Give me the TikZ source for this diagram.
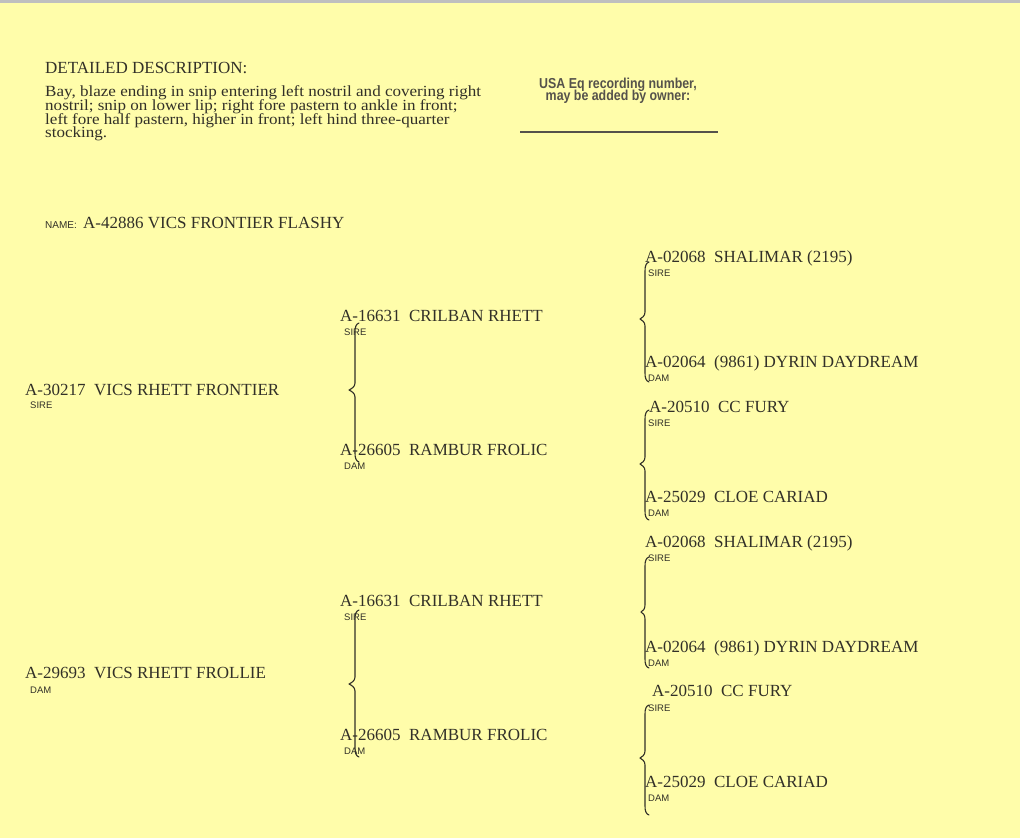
\documentclass[tikz,border=0pt]{standalone}
\usepackage{fontspec}
\setmainfont{Liberation Serif}
\setsansfont{Liberation Sans}
\newfontfamily\stampfont[FakeStretch=0.86]{Liberation Sans Bold}
\newfontfamily\descfont[FakeStretch=1.1]{Liberation Serif}
\definecolor{paper}{RGB}{255,253,170}
\definecolor{ink}{RGB}{50,48,40}
\definecolor{stampink}{RGB}{85,82,75}
\newcommand\gap{\hspace{0.5em}}
\newcommand\mybrace[5]{% x, tip x, top, mid, bottom
  \draw[bracestyle] (#1+4,#3) .. controls (#1+1,#3+1) and (#1,#3+4) .. (#1,#3+9)
    -- (#1,#4-7) .. controls (#1,#4-3) and (#2+2,#4-1) .. (#2,#4)
    .. controls (#2+2,#4+1) and (#1,#4+3) .. (#1,#4+7)
    -- (#1,#5-9) .. controls (#1,#5-4) and (#1+1,#5-1) .. (#1+4,#5);}
\tikzset{
  entry/.style={anchor=base west, inner sep=0pt, text=ink, font=\fontsize{17}{17}\selectfont},
  desc/.style={anchor=base west, inner sep=0pt, text=ink, font=\descfont\fontsize{15.5}{14}\selectfont},
  lab/.style={anchor=base west, inner sep=0pt, text=ink, font=\sffamily\fontsize{9.5}{9.5}\selectfont},
  stamp/.style={anchor=base, inner sep=0pt, text=stampink, font=\stampfont\fontsize{14.4}{14.4}\selectfont},
  bracestyle/.style={draw=ink, line width=1.1pt, line cap=round, line join=round}
}
\begin{document}
\begin{tikzpicture}[x=1pt,y=-1pt]
\fill[paper] (0,0) rectangle (1020,838);
\useasboundingbox (0,0) rectangle (1020,838);
\fill[black!25] (0,0) rectangle (1020,2.5);
% description
\node[entry] (head) at (45,73) {DETAILED DESCRIPTION:};
\node[desc] (d1) at (45,96) {Bay, blaze ending in snip entering left nostril and covering right};
\node[desc] (d2) at (45,110) {nostril; snip on lower lip; right fore pastern to ankle in front;};
\node[desc] (d3) at (45,124) {left fore half pastern, higher in front; left hind three-quarter};
\node[desc] (d4) at (45,137) {stocking.};
% stamp
\node[stamp] (s1) at (618,88) {USA Eq recording number,};
\node[stamp] (s2) at (618,100) {may be added by owner:};
\coordinate (ul1) at (520,132);
\coordinate (ul2) at (718,132);
\draw[stampink, line width=2pt] (ul1) -- (ul2);
% name
\node[lab, font=\sffamily\fontsize{10}{10}\selectfont] (namel) at (45,228) {NAME:};
\node[entry] (name) at (83,228) {A-42886 VICS FRONTIER FLASHY};
% generation 1
\node[entry] (g1a) at (25,395) {A-30217\gap VICS RHETT FRONTIER};
\node[lab] (g1al) at (30,408) {SIRE};
\node[entry] (g1b) at (25,678) {A-29693\gap VICS RHETT FROLLIE};
\node[lab] (g1bl) at (30,693) {DAM};
% generation 2
\node[entry] (g2a) at (340,321) {A-16631\gap CRILBAN RHETT};
\node[lab] (g2al) at (344,335) {SIRE};
\node[entry] (g2b) at (340,455) {A-26605\gap RAMBUR FROLIC};
\node[lab] (g2bl) at (344,469) {DAM};
\node[entry] (g2c) at (340,606) {A-16631\gap CRILBAN RHETT};
\node[lab] (g2cl) at (344,620) {SIRE};
\node[entry] (g2d) at (340,740) {A-26605\gap RAMBUR FROLIC};
\node[lab] (g2dl) at (344,754) {DAM};
\mybrace{355}{349}{323}{390}{462}
\mybrace{355}{349}{610}{684}{757}
% generation 3
\node[entry] (g3a) at (645,262) {A-02068\gap SHALIMAR (2195)};
\node[lab] (g3al) at (648,276) {SIRE};
\node[entry] (g3b) at (645,367) {A-02064\gap (9861) DYRIN DAYDREAM};
\node[lab] (g3bl) at (648,381) {DAM};
\node[entry] (g3c) at (649,412) {A-20510\gap CC FURY};
\node[lab] (g3cl) at (648,426) {SIRE};
\node[entry] (g3d) at (645,502) {A-25029\gap CLOE CARIAD};
\node[lab] (g3dl) at (648,516) {DAM};
\node[entry] (g3e) at (645,547) {A-02068\gap SHALIMAR (2195)};
\node[lab] (g3el) at (648,561) {SIRE};
\node[entry] (g3f) at (645,652) {A-02064\gap (9861) DYRIN DAYDREAM};
\node[lab] (g3fl) at (648,666) {DAM};
\node[entry] (g3g) at (652,696) {A-20510\gap CC FURY};
\node[lab] (g3gl) at (648,711) {SIRE};
\node[entry] (g3h) at (645,787) {A-25029\gap CLOE CARIAD};
\node[lab] (g3hl) at (648,801) {DAM};
\mybrace{645}{640}{262}{319}{382}
\mybrace{645}{640}{410}{464}{520}
\mybrace{645}{641}{557}{612}{668}
\mybrace{645}{640}{705}{758}{815}
\end{tikzpicture}
\end{document}
